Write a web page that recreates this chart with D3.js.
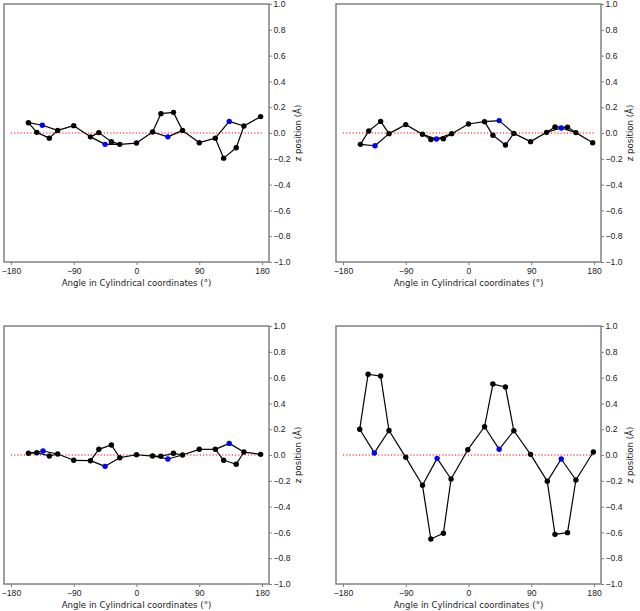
<!DOCTYPE html>
<html lang="en">
<head>
<meta charset="UTF-8">
<title>z position vs angle</title>
<script src="https://d3js.org/d3.v7.min.js"></script>
<style>
    body { margin: 0; background: #fff; }
    svg { display: block; font-family: "DejaVu Sans", sans-serif; }
    .axis text { font-size: 8.6px; fill: #1a1a1a; }
    .axis path, .axis line { stroke: #808080; }
    .label { font-size: 8.6px; fill: #1a1a1a; }
</style>
</head>
<body>
<svg width="640" height="611"></svg>
<script>
    // atom order per pyrrole ring: Ca, Cb, Cb, Ca, N, meso (4 rings -> 24 atoms)
    const angles1 = [-155, -143, -125, -113, -135, -90, -66, -54, -36, -24, -45, 0, 23, 35, 53, 66, 45, 90, 113, 125, 143, 154, 133, 178];
    const z1 = [0.08, 0.005, -0.04, 0.02, 0.06, 0.057, -0.03, 0.003, -0.067, -0.088, -0.088, -0.078, 0.008, 0.15, 0.16, 0.02, -0.03, -0.075, -0.04, -0.195, -0.114, 0.054, 0.09, 0.127];

    const angles2 = [-155, -143, -126, -114, -134, -90, -66, -54, -36, -24, -46, 0, 23, 35, 53, 65, 44, 89, 112, 124, 142, 154, 133, 178];
    const z2 = [-0.088, 0.016, 0.09, -0.005, -0.099, 0.065, -0.01, -0.05, -0.044, -0.005, -0.047, 0.07, 0.088, -0.018, -0.093, -0.003, 0.096, -0.067, 0.005, 0.047, 0.044, 0.003, 0.039, -0.075];

    const angles3 = [-155, -143, -125, -113, -134, -90, -66, -54, -36, -24, -45, 0, 23, 35, 53, 66, 45, 90, 113, 125, 143, 154, 133, 178];
    const z3 = [0.013, 0.018, -0.008, 0.008, 0.031, -0.041, -0.044, 0.044, 0.078, -0.021, -0.088, 0.002, -0.008, -0.01, 0.013, 0, -0.031, 0.044, 0.044, -0.041, -0.072, 0.023, 0.09, 0.005];

    const angles4 = [-156, -144, -126, -114, -135, -90, -66, -54, -36, -25, -45, -1, 23, 35, 53, 65, 44, 89, 113, 124, 142, 154, 133, 179];
    const z4 = [0.2, 0.626, 0.612, 0.19, 0.016, -0.018, -0.235, -0.651, -0.607, -0.186, -0.026, 0.041, 0.219, 0.55, 0.527, 0.188, 0.044, 0.005, -0.204, -0.615, -0.602, -0.194, -0.031, 0.023];

    const xTicks = [-180, -90, 0, 90, 180];
    const yTicks = [-1.0, -0.8, -0.6, -0.4, -0.2, 0.0, 0.2, 0.4, 0.6, 0.8, 1.0];
    const xLabel = "Angle in Cylindrical coordinates (°)";
    const yLabel = "z position (Å)";

    // bonds between atoms (same connectivity in every panel)
    const bonds = [];
    for (let r = 0; r < 4; r++) {
        const b = r * 6;
        bonds.push([b, b + 1], [b + 1, b + 2], [b + 2, b + 3], [b + 3, b + 4], [b + 4, b], [b + 3, b + 5]);
        if (r < 3) bonds.push([b + 5, b + 6]);
    }
    const isN = i => i % 6 === 4;

    const panels = [
        { angles: angles1, z: z1, left: 4, top: 4 },
        { angles: angles2, z: z2, left: 336, top: 4 },
        { angles: angles3, z: z3, left: 4, top: 326 },
        { angles: angles4, z: z4, left: 336, top: 326 }
    ];
    const w = 265, h = 258;
    const fmt = v => (v < 0 ? "\u2212" : "") + Math.abs(v).toFixed(1);
    const fmtX = v => (v < 0 ? "\u2212" : "") + Math.abs(v);

    const svg = d3.select("svg");

    panels.forEach(p => {
        const g = svg.append("g").attr("transform", `translate(${p.left},${p.top})`);
        const x = d3.scaleLinear().domain([-190, 190]).range([0, w]);
        const y = d3.scaleLinear().domain([-1, 1]).range([h, 0]);

        // frame
        g.append("rect").attr("width", w).attr("height", h)
            .attr("fill", "none").attr("stroke", "#808080").attr("stroke-width", 1.5);

        // zero reference
        g.append("line")
            .attr("x1", x(-180)).attr("x2", x(180))
            .attr("y1", y(0)).attr("y2", y(0))
            .attr("stroke", "red").attr("stroke-width", 1.2)
            .attr("stroke-dasharray", "1.2,2");

        // bonds
        g.selectAll(".bond").data(bonds).enter().append("line")
            .attr("x1", d => x(p.angles[d[0]])).attr("y1", d => y(p.z[d[0]]))
            .attr("x2", d => x(p.angles[d[1]])).attr("y2", d => y(p.z[d[1]]))
            .attr("stroke", "black").attr("stroke-width", 1.2);

        // atoms, nitrogens drawn on top
        const idx = d3.range(p.angles.length).sort((a, b) => isN(a) - isN(b));
        g.selectAll(".atom").data(idx).enter().append("circle")
            .attr("cx", i => x(p.angles[i])).attr("cy", i => y(p.z[i]))
            .attr("r", 2.7)
            .attr("fill", i => isN(i) ? "blue" : "black");

        // axes
        const ax = g.append("g").attr("class", "axis")
            .attr("transform", `translate(0,${h})`)
            .call(d3.axisBottom(x).tickValues(xTicks).tickFormat(fmtX).tickSize(3).tickPadding(2.5));
        ax.select(".domain").remove();

        const ay = g.append("g").attr("class", "axis")
            .attr("transform", `translate(${w},0)`)
            .call(d3.axisRight(y).tickValues(yTicks).tickFormat(fmt).tickSize(3).tickPadding(1.5));
        ay.select(".domain").remove();

        g.append("text").attr("class", "label")
            .attr("x", w / 2).attr("y", h + 24)
            .attr("text-anchor", "middle")
            .text(xLabel);

        g.append("text").attr("class", "label")
            .attr("transform", `translate(${w + 29},${h / 2}) rotate(-90)`)
            .attr("text-anchor", "middle")
            .attr("dy", "0.35em")
            .text(yLabel);
    });
</script>
</body>
</html>
